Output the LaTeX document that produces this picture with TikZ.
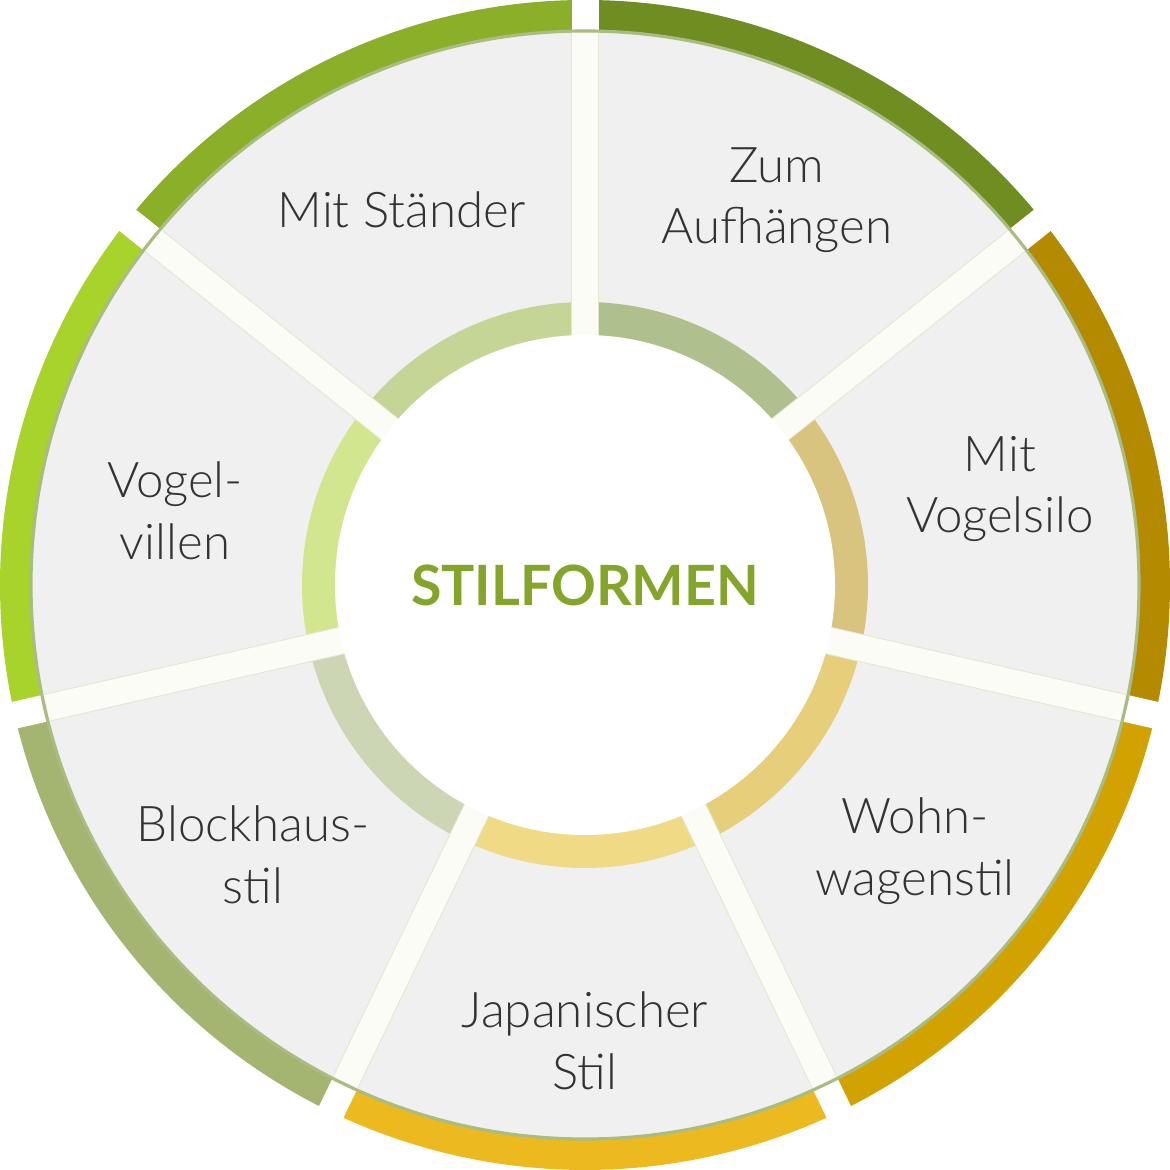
\documentclass[tikz,border=0pt]{standalone}
\usepackage{fontspec}
\setmainfont{Lato}[UprightFont={* Light}, BoldFont={* Bold}]
\usepackage{tikz}
\definecolor{grauflaeche}{HTML}{F0F0F0}
\definecolor{steg}{HTML}{FBFCF5}
\definecolor{stegrand}{HTML}{E3E8CE}
\definecolor{randlinie}{HTML}{A9BC82}
\definecolor{schrift}{HTML}{333333}
\definecolor{titelgruen}{HTML}{82A52A}
% aussenring
\definecolor{aussenA}{HTML}{6F8D20}
\definecolor{aussenB}{HTML}{B38A00}
\definecolor{aussenC}{HTML}{D2A300}
\definecolor{aussenD}{HTML}{ECBA1F}
\definecolor{aussenE}{HTML}{A4B471}
\definecolor{aussenF}{HTML}{A7D32B}
\definecolor{aussenG}{HTML}{8BAF28}
% innenring
\definecolor{innenA}{HTML}{AFBF8E}
\definecolor{innenB}{HTML}{D8C37F}
\definecolor{innenC}{HTML}{E7CE7B}
\definecolor{innenD}{HTML}{F1DA86}
\definecolor{innenE}{HTML}{CDD6B4}
\definecolor{innenF}{HTML}{D2E68F}
\definecolor{innenG}{HTML}{C4D595}

% ring sector: colour, start angle, end angle, inner radius, outer radius
\newcommand{\ringsektor}[5]{%
  \fill[#1] (#2:#5) arc[start angle=#2, end angle=#3, radius=#5]
    -- (#3:#4) arc[start angle=#3, end angle=#2, radius=#4] -- cycle;}

\begin{document}
\begin{tikzpicture}[
    beschriftung/.style={text=schrift, align=center, font=\fontsize{14}{17.5}\selectfont},
    titel/.style={text=titelgruen, font=\fontsize{15.8}{19}\bfseries\selectfont}
  ]
    \useasboundingbox (-5.85,-5.85) rectangle (5.85,5.85);

    % AUSSENRING
    \ringsektor{aussenA}{90}{38.571}{5.52}{5.85}
    \ringsektor{aussenB}{38.571}{-12.857}{5.52}{5.85}
    \ringsektor{aussenC}{-12.857}{-64.286}{5.52}{5.85}
    \ringsektor{aussenD}{-64.286}{-115.714}{5.52}{5.85}
    \ringsektor{aussenE}{-115.714}{-167.143}{5.52}{5.85}
    \ringsektor{aussenF}{-167.143}{-218.571}{5.52}{5.85}
    \ringsektor{aussenG}{141.429}{90}{5.52}{5.85}
    \foreach \w in {90,38.571,-12.857,-64.286,-115.714,-167.143,-218.571}
        \draw[white, line width=0.27cm] (\w:5.3) -- (\w:5.95);

    % GRAUE SCHEIBE
    \filldraw[draw=randlinie, line width=0.9pt, fill=grauflaeche] (0,0) circle (5.54);

    % INNENRING
    \ringsektor{innenA}{90}{38.571}{2.45}{2.83}
    \ringsektor{innenB}{38.571}{-12.857}{2.45}{2.83}
    \ringsektor{innenC}{-12.857}{-64.286}{2.45}{2.83}
    \ringsektor{innenD}{-64.286}{-115.714}{2.45}{2.83}
    \ringsektor{innenE}{-115.714}{-167.143}{2.45}{2.83}
    \ringsektor{innenF}{-167.143}{-218.571}{2.45}{2.83}
    \ringsektor{innenG}{141.429}{90}{2.45}{2.83}

    % STEGE
    \foreach \w in {90,38.571,-12.857,-64.286,-115.714,-167.143,-218.571}{
        \draw[stegrand, line width=0.28cm] (\w:2.4) -- (\w:5.52);
        \draw[steg, line width=0.26cm] (\w:2.4) -- (\w:5.52);
    }

    % MITTE
    \fill[white] (0,0) circle (2.5);
    \node[titel] (titel) at (0,0) {STILFORMEN};

    % BESCHRIFTUNG
    \node[beschriftung] (aufhaengen) at (1.92,3.85) {Zum\\Aufhängen};
    \node[beschriftung] (staender) at (-1.83,3.75) {Mit Ständer};
    \node[beschriftung] (vogelsilo) at (4.15,0.96) {Mit\\Vogelsilo};
    \node[beschriftung] (wohnwagen) at (3.30,-2.66) {Wohn-\\wagenstil};
    \node[beschriftung] (japanisch) at (0,-4.56) {Japanischer\\Stil};
    \node[beschriftung] (blockhaus) at (-3.32,-2.70) {Blockhaus-\\stil};
    \node[beschriftung] (vogelvillen) at (-4.10,0.74) {Vogel-\\villen};

\end{tikzpicture}
\end{document}
